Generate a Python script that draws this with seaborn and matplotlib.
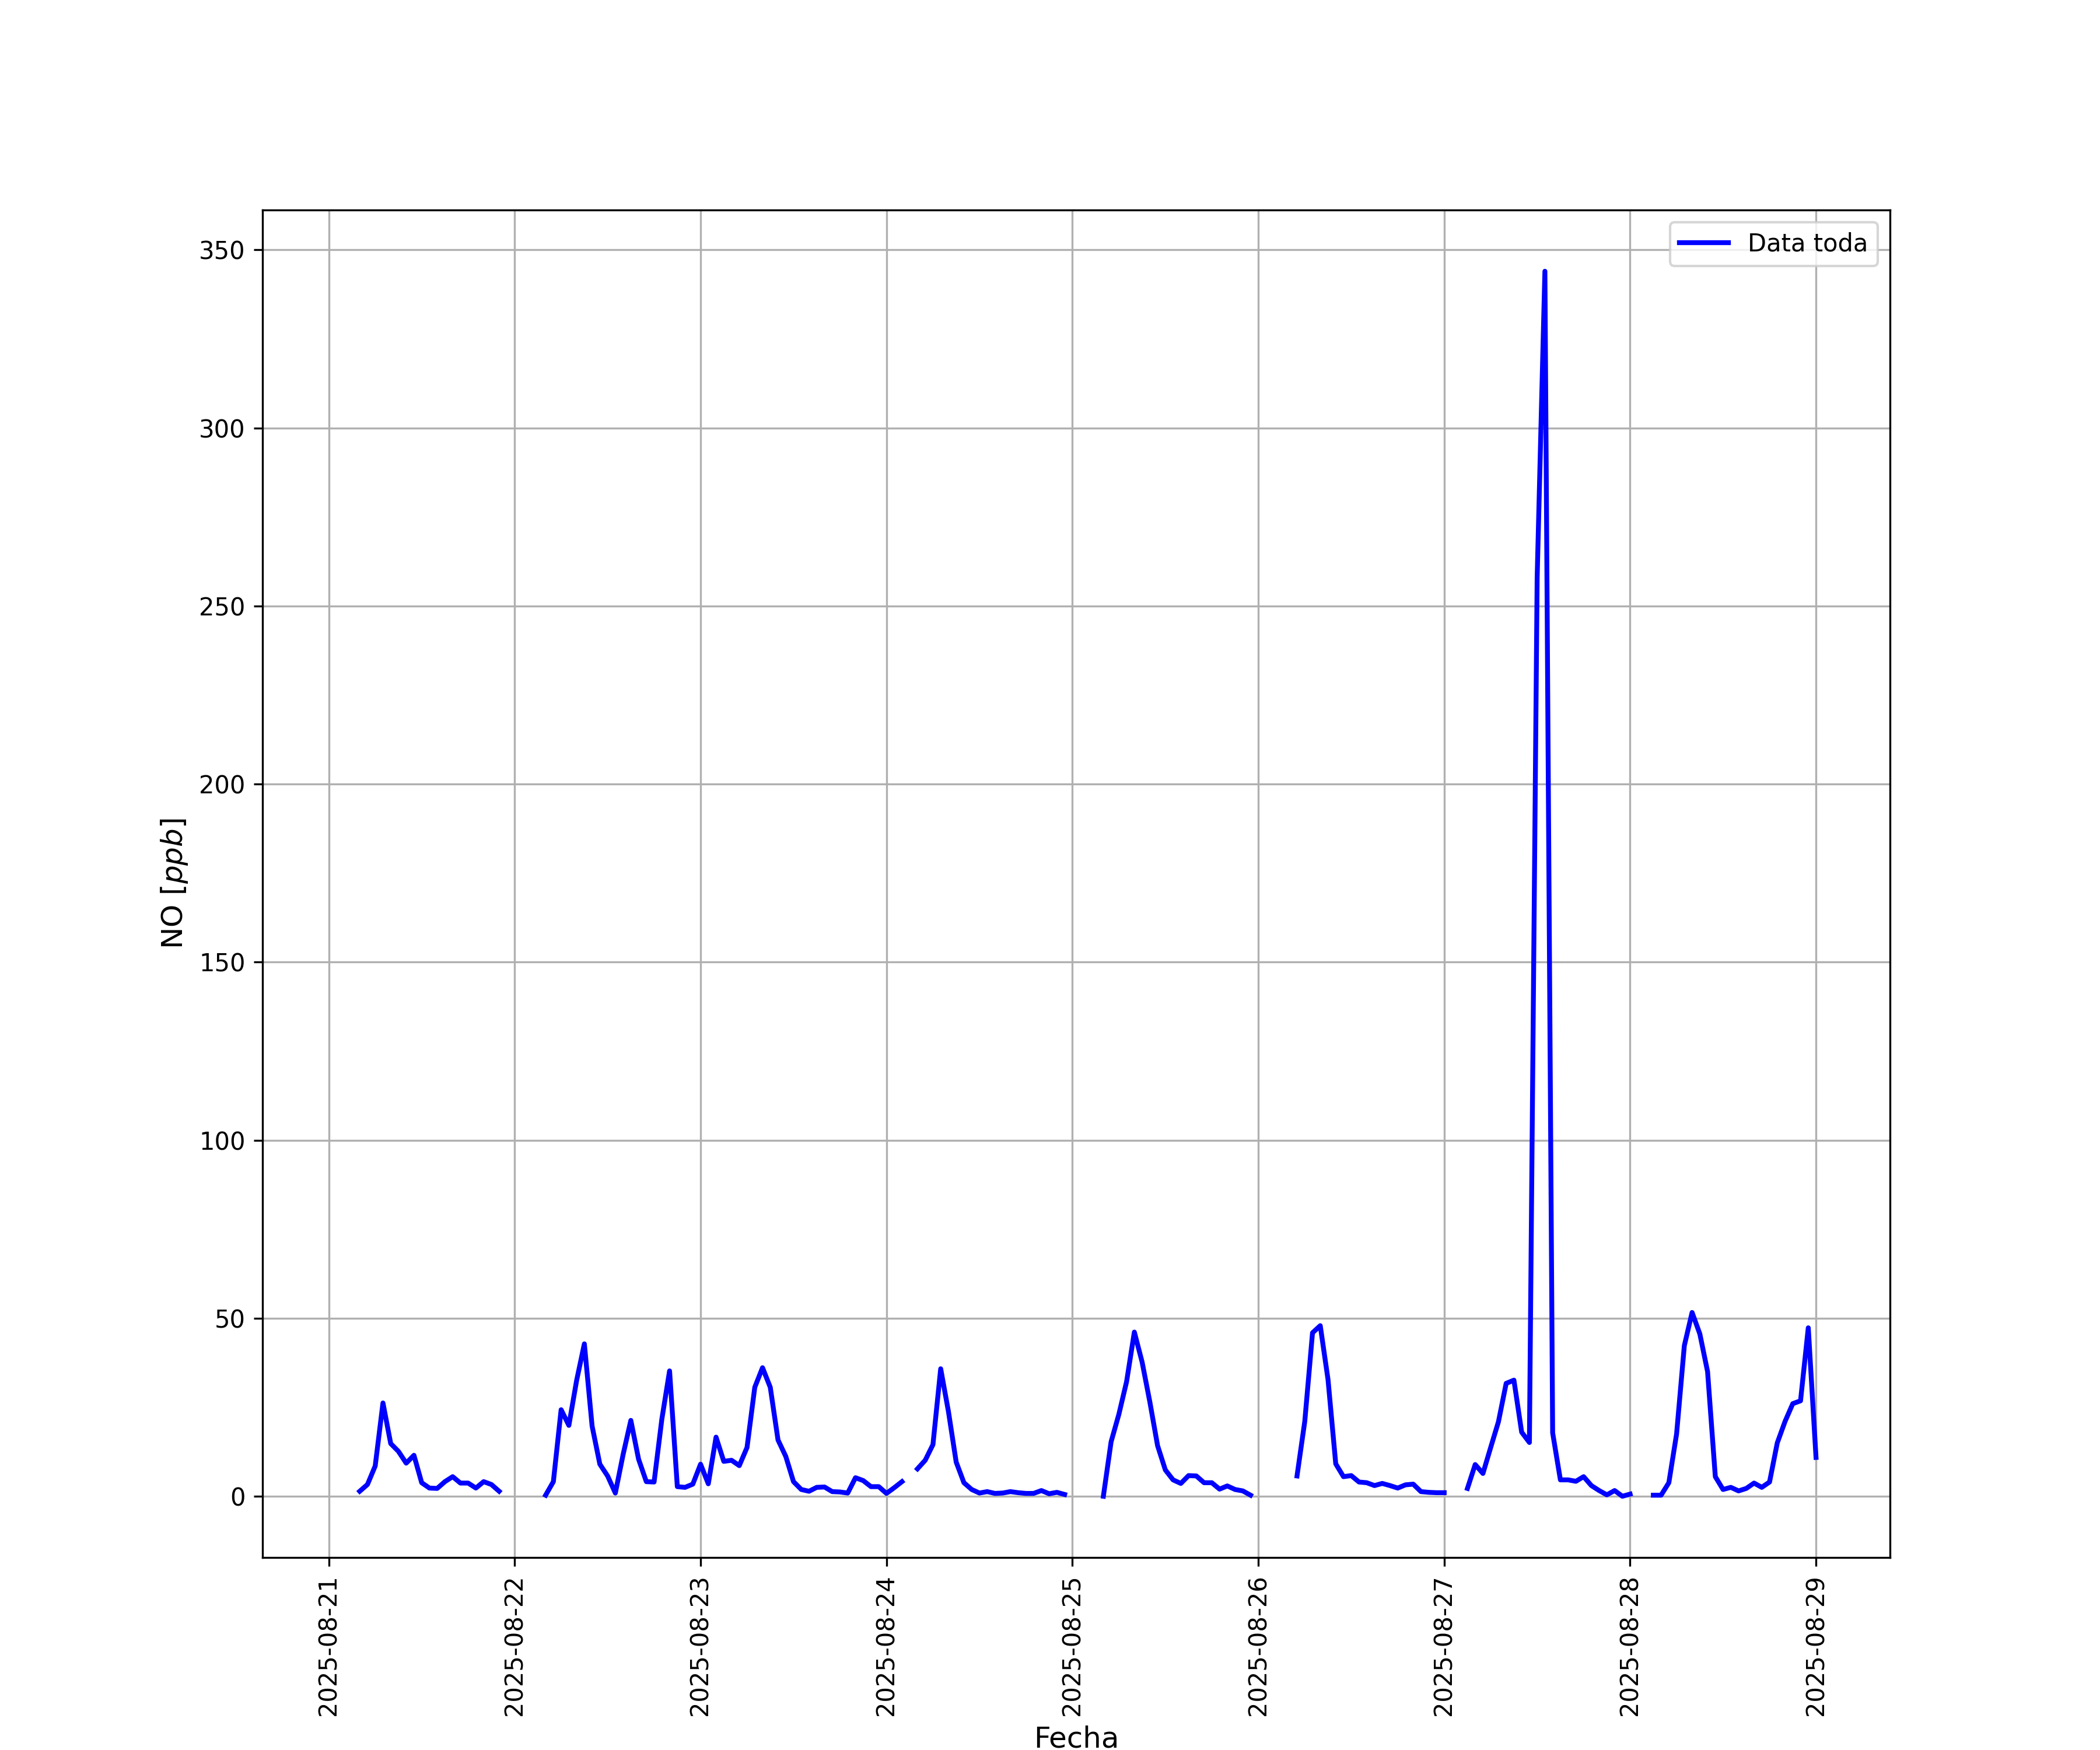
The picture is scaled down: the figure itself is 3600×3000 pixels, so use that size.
import numpy as np
import pandas as pd
import seaborn as sns
import matplotlib
matplotlib.use('Agg')
import matplotlib.pyplot as plt
import matplotlib.dates as mdates

nan = np.nan

# NO horario [ppb], el 21 empieza a la 01:00
no_ago21 = [nan, nan, nan, 1.4, 3.3, 8.5, 26.2, 14.8, 12.6, 9.3, 11.5,
            3.8, 2.3, 2.2, 4.1, 5.5, 3.7, 3.7, 2.3, 4.1, 3.3, 1.4, nan]
no_ago22 = [nan, nan, nan, nan, 0.3, 4.1, 24.3, 19.9, 32.5, 42.8, 19.7, 9.0,
            5.7, 0.9, 11.7, 21.3, 10.4, 4.1, 4.0, 21.6, 35.2, 2.7, 2.5, 3.4]
no_ago23 = [9.0, 3.5, 16.6, 9.8, 10.1, 8.6, 13.7, 30.6, 36.1, 30.6, 15.8, 11.2,
            4.1, 1.9, 1.4, 2.5, 2.6, 1.3, 1.2, 0.9, 5.2, 4.4, 2.7, 2.7]
no_ago24 = [0.8, 2.4, 4.1, nan, 7.7, 10.1, 14.5, 35.8, 23.8, 9.6, 3.8, 1.9,
            0.9, 1.3, 0.8, 0.9, 1.3, 1.0, 0.8, 0.8, 1.6, 0.7, 1.1, 0.5]
no_ago25 = [nan, nan, nan, nan, 0.0, 15.3, 23.0, 32.2, 46.1, 37.7, 26.5, 14.2,
            7.4, 4.6, 3.6, 5.8, 5.7, 3.8, 3.8, 2.0, 2.9, 1.9, 1.5, 0.3]
no_ago26 = [nan, nan, nan, nan, nan, 5.7, 21.0, 45.9, 47.9, 32.8, 9.1, 5.5,
            5.8, 4.0, 3.8, 3.0, 3.6, 3.0, 2.3, 3.2, 3.4, 1.3, 1.1, 1.0]
no_ago27 = [1.0, nan, nan, 2.2, 8.9, 6.4, 13.7, 20.9, 31.7, 32.6, 18.0, 15.1,
            258.0, 344.0, 17.8, 4.6, 4.6, 4.2, 5.5, 3.0, 1.6, 0.4, 1.6, 0.0]
no_ago28 = [0.6, nan, nan, 0.3, 0.3, 3.8, 17.5, 42.3, 51.6, 45.6, 35.0, 5.5,
            1.9, 2.5, 1.5, 2.2, 3.7, 2.5, 4.0, 15.0, 21.0, 26.0, 26.8, 47.3]
no_ago29 = [10.9]

valores = (no_ago21 + no_ago22 + no_ago23 + no_ago24 + no_ago25
           + no_ago26 + no_ago27 + no_ago28 + no_ago29)
fechas = pd.date_range('2025-08-21 01:00', periods=len(valores), freq='h')

df = pd.DataFrame({'Fecha': fechas, 'NO': valores})
# cada tramo sin huecos se dibuja por separado para que no se unan
df['tramo'] = df['NO'].isna().cumsum()

fig, ax = plt.subplots(figsize=(12, 10))
sns.lineplot(data=df, x='Fecha', y='NO', units='tramo', estimator=None,
             color='blue', linewidth=2, label='Data toda', ax=ax)

handles, labels = ax.get_legend_handles_labels()
ax.legend(handles[:1], labels[:1], loc='upper right')

pad = (fechas[-1] - fechas[0]) * 0.05
ax.set_xlim(fechas[0] - pad, fechas[-1] + pad)
ax.xaxis.set_major_locator(mdates.DayLocator())
ax.xaxis.set_major_formatter(mdates.DateFormatter('%Y-%m-%d'))
plt.xticks(rotation=90)
ax.grid(True)
ax.set_xlabel('Fecha', fontsize=12)
ax.set_ylabel('NO [$ppb$]', fontsize=12)

fig.savefig('out.png', dpi=300)
